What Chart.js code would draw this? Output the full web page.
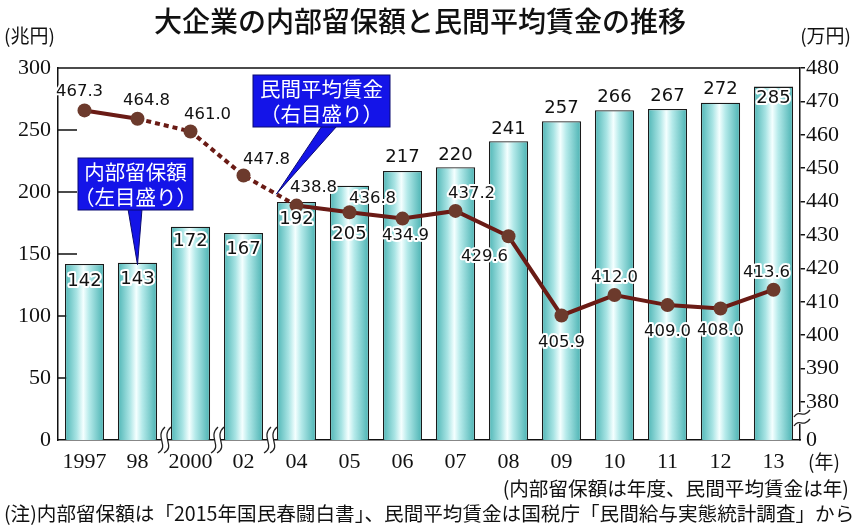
<!DOCTYPE html>
<html lang="ja">
<head>
<meta charset="utf-8">
<script src="https://cdn.jsdelivr.net/npm/chart.js@4.4.1/dist/chart.umd.min.js"></script>
<style>
html,body{margin:0;padding:0;background:#fff;}
#wrap{position:relative;width:857px;height:531px;overflow:hidden;font-family:"Noto Sans CJK JP",sans-serif;color:#111;}
#chart{position:absolute;left:0;top:0;}
.t{position:absolute;white-space:nowrap;line-height:1;}
</style>
</head>
<body>
<div id="wrap">
	<canvas id="chart" width="857" height="531"></canvas>
	<div class="t" style="left:154px;top:6px;font-size:28px;font-weight:500;">大企業の内部留保額と民間平均賃金の推移</div>
	<div class="t" style="left:4px;top:25px;font-size:19px;">(兆円)</div>
	<div class="t" style="right:6px;top:25px;font-size:19px;">(万円)</div>
	<div class="t" style="left:808px;top:451px;font-size:19px;">(年)</div>
	<div class="t" style="right:8px;top:478px;font-size:19.6px;">(内部留保額は年度、民間平均賃金は年)</div>
	<div class="t" id="note" style="left:4px;top:503px;font-size:19.6px;">(注)内部留保額は「2015年国民春闘白書」、民間平均賃金は国税庁「民間給与実態統計調査」から</div>
</div>
<script>
const years = ["1997", "98", "2000", "02", "04", "05", "06", "07", "08", "09", "10", "11", "12", "13"];
const retained = [142, 143, 172, 167, 192, 205, 217, 220, 241, 257, 266, 267, 272, 285];
const wages = [467.3, 464.8, 461.0, 447.8, 438.8, 436.8, 434.9, 437.2, 429.6, 405.9, 412.0, 409.0, 408.0, 413.6];
const leftTicks = [0, 50, 100, 150, 200, 250, 300];
const rightTicks = [380, 390, 400, 410, 420, 430, 440, 450, 460, 470, 480];
const wageFloor = 368.6;   // bottom of the broken right axis, shown as "0"
const yearBreaks = [1, 2, 3];   // axis breaks after these years

const serif = "'Liberation Serif', 'DejaVu Serif', serif";
const barShare = 0.74;

// where the value labels sit (px from bar top / from point)
const barLabelShift = [17, 17, 15, 16, 17, 49, -14, -12, -12, -13, -13, -13, -13, 12];
const lineLabelShift = [[-5, -19], [9, -18], [17, -17], [23, -16], [17, -18], [23, -14], [3, 17],
	[16, -17], [-24, 20], [0, 27], [0, -17], [0, 27], [0, 22], [-7, -17]];

function barFill(ctx) {
	const chart = ctx.chart, area = chart.chartArea;
	if (!area || ctx.dataIndex === undefined) return "#8fd8d8";
	const x = chart.scales.x.getPixelForValue(ctx.dataIndex);
	const half = area.width / years.length * barShare / 2;
	const g = chart.ctx.createLinearGradient(x - half, 0, x + half, 0);
	g.addColorStop(0, "#4fb6b6");
	g.addColorStop(0.3, "#a9e4e4");
	g.addColorStop(0.47, "#f4ffff");
	g.addColorStop(0.62, "#b5eaea");
	g.addColorStop(1, "#49b2b2");
	return g;
}

function haloText(c, text, x, y) {
	c.lineWidth = 4;
	c.strokeStyle = "#fff";
	c.lineJoin = "round";
	c.strokeText(text, x, y);
	c.fillStyle = "#111";
	c.fillText(text, x, y);
}

function wave(c, x, y) {
	// one broken-axis mark, two parallel S curves
	c.save();
	c.fillStyle = "#fff";
	c.beginPath();
	c.moveTo(x - 6, y + 13);
	c.bezierCurveTo(x + 6, y + 6, x - 10, y - 3, x + 1, y - 13);
	c.lineTo(x + 7, y - 13);
	c.bezierCurveTo(x - 4, y - 3, x + 12, y + 6, x, y + 13);
	c.closePath();
	c.fill();
	c.strokeStyle = "#222";
	c.lineWidth = 1.3;
	c.beginPath();
	c.moveTo(x - 6, y + 13);
	c.bezierCurveTo(x + 6, y + 6, x - 10, y - 3, x + 1, y - 13);
	c.moveTo(x + 7, y - 13);
	c.bezierCurveTo(x - 4, y - 3, x + 12, y + 6, x, y + 13);
	c.stroke();
	c.restore();
}

function callout(c, box, lines, tip, base) {
	c.save();
	c.fillStyle = "#1414e8";
	c.strokeStyle = "#0a0a70";
	c.lineWidth = 1;
	c.beginPath();
	c.moveTo(base[0], box.y + box.h - 1);
	c.lineTo(tip.x, tip.y);
	c.lineTo(base[1], box.y + box.h - 1);
	c.closePath();
	c.fill();
	c.stroke();
	c.fillRect(box.x, box.y, box.w, box.h);
	c.strokeRect(box.x, box.y, box.w, box.h);
	c.fillStyle = "#fff";
	c.font = "20.5px 'Noto Sans CJK JP'";
	c.textAlign = "center";
	c.textBaseline = "middle";
	lines.forEach((t, i) => c.fillText(t, box.x + box.w / 2, box.y + 14 + i * 25));
	c.restore();
}

const decor = {
	id: "decor",
	beforeDatasetsDraw(chart) {
		const c = chart.ctx, a = chart.chartArea, y = chart.scales.y;
		c.save();
		c.strokeStyle = "#111";
		c.lineWidth = 1.5;
		c.beginPath();
		c.moveTo(a.left, a.top);
		c.lineTo(a.right, a.top);
		leftTicks.slice(1, -1).forEach(v => {
			const py = y.getPixelForValue(v);
			c.moveTo(a.left, py);
			c.lineTo(a.left + 19, py);
		});
		c.stroke();
		c.restore();
	},
	afterDraw(chart) {
		const c = chart.ctx, a = chart.chartArea, x = chart.scales.x;
		const step = a.width / years.length;

		yearBreaks.forEach(i => wave(c, x.getPixelForValue(i) + step / 2, a.bottom));

		// break on the right axis
		c.save();
		c.fillStyle = "#fff";
		c.fillRect(a.right - 3, a.bottom - 28, 8, 12);
		c.strokeStyle = "#222";
		c.lineWidth = 1.3;
		[-27, -18].forEach(d => {
			c.beginPath();
			c.moveTo(a.right - 6, a.bottom + d + 4);
			c.bezierCurveTo(a.right - 1, a.bottom + d - 4, a.right + 3, a.bottom + d + 6, a.right + 10, a.bottom + d - 3);
			c.stroke();
		});
		c.restore();

		c.save();
		c.textAlign = "center";
		c.textBaseline = "middle";
		c.font = "18px 'DejaVu Sans'";
		chart.getDatasetMeta(0).data.forEach((bar, i) => {
			haloText(c, String(retained[i]), bar.x, bar.y + barLabelShift[i]);
		});
		c.font = "16.5px 'DejaVu Sans'";
		chart.getDatasetMeta(1).data.forEach((pt, i) => {
			haloText(c, wages[i].toFixed(1), pt.x + lineLabelShift[i][0], pt.y + lineLabelShift[i][1]);
		});
		c.restore();

		const pts = chart.getDatasetMeta(1).data;
		const tip1 = {x: pts[3].x + (pts[4].x - pts[3].x) * 0.62, y: pts[3].y + (pts[4].y - pts[3].y) * 0.62};
		const box1 = {x: a.left + 195, y: a.top + 7, w: 137, h: 52};
		callout(c, box1, ["民間平均賃金", "（右目盛り）"], tip1, [box1.x + 69, box1.x + 84]);

		const b98 = chart.getDatasetMeta(0).data[1];
		const tip2 = {x: b98.x, y: b98.y + 2};
		const box2 = {x: a.left + 20, y: a.top + 90, w: 115, h: 52};
		callout(c, box2, ["内部留保額", "（左目盛り）"], tip2, [box2.x + 50, box2.x + 64]);
	}
};

new Chart(document.getElementById("chart").getContext("2d"), {
	data: {
		labels: years,
		datasets: [{
			type: "bar",
			label: "内部留保額",
			data: retained,
			yAxisID: "y",
			backgroundColor: barFill,
			borderColor: "#1a1a1a",
			borderWidth: 1.3,
			categoryPercentage: barShare,
			barPercentage: 1,
			order: 2
		}, {
			type: "line",
			label: "民間平均賃金",
			data: wages,
			yAxisID: "y1",
			borderColor: "#6a1b15",
			borderWidth: 4,
			pointRadius: 7,
			pointHoverRadius: 7,
			pointBackgroundColor: "#6c3a2c",
			pointBorderWidth: 0,
			tension: 0,
			order: 1,
			segment: {
				borderDash: s => (s.p0DataIndex >= 1 && s.p1DataIndex <= 4) ? [5, 4] : undefined
			}
		}]
	},
	options: {
		responsive: false,
		animation: false,
		layout: {padding: {top: 68, bottom: 51, left: 0, right: 0}},
		plugins: {legend: {display: false}, tooltip: {enabled: false}},
		scales: {
			x: {
				grid: {display: false, drawTicks: false},
				border: {color: "#111", width: 1.5},
				ticks: {font: {family: serif, size: 22}, color: "#111", padding: 9, maxRotation: 0, autoSkip: false},
				afterFit: s => { s.height = 40; }
			},
			y: {
				position: "left",
				min: 0,
				max: 300,
				afterBuildTicks: s => { s.ticks = leftTicks.map(v => ({value: v})); },
				grid: {display: false, drawTicks: false},
				border: {color: "#111", width: 1.5},
				ticks: {font: {family: serif, size: 22}, color: "#111", padding: 7},
				afterFit: s => { s.width = 58; }
			},
			y1: {
				position: "right",
				min: wageFloor,
				max: 480,
				afterBuildTicks: s => { s.ticks = [{value: wageFloor}].concat(rightTicks.map(v => ({value: v}))); },
				grid: {
					drawOnChartArea: false,
					drawTicks: true,
					tickLength: 5,
					lineWidth: 1.5,
					color: c => c.tick && c.tick.value === wageFloor ? "rgba(0,0,0,0)" : "#111"
				},
				border: {color: "#111", width: 1.5},
				ticks: {
					font: {family: serif, size: 22},
					color: "#111",
					padding: 1,
					callback: v => v === wageFloor ? "0" : v
				},
				afterFit: s => { s.width = 57; }
			}
		}
	},
	plugins: [decor]
});
</script>
</body>
</html>
